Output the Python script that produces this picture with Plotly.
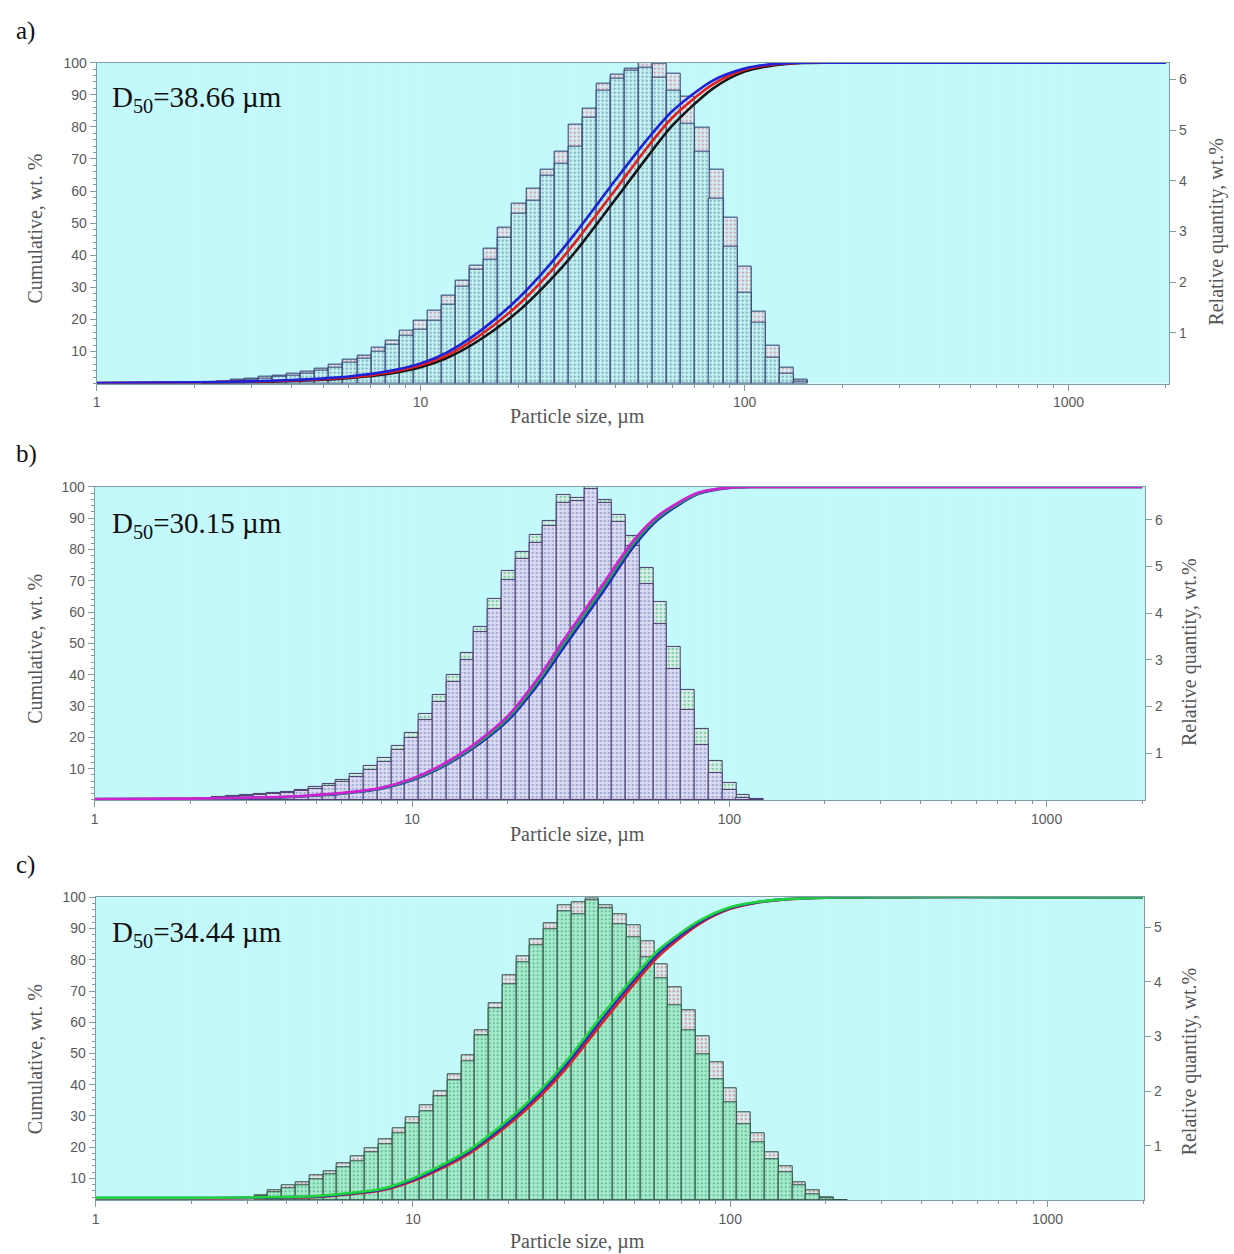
import plotly.graph_objects as go

# ---------------- data ----------------
# particle size classes (class centres, µm)
SIZE_CLASSES = [2.227, 2.462, 2.721, 3.008, 3.325, 3.674, 4.061, 4.488, 4.961, 5.483,
                6.060, 6.698, 7.403, 8.185, 9.048, 10.0, 11.05, 12.22, 13.50, 14.92,
                16.49, 18.23, 20.15, 22.27, 24.61, 27.20, 30.06, 33.23, 36.72, 40.58,
                44.86, 49.58, 54.80, 60.57, 66.94, 73.99, 81.77, 90.38, 100.0, 110.5,
                122.2, 135.0, 149.2, 164.9, 182.3, 201.5, 222.7]

# relative quantity, wt.% (outer / inner measurement); None = empty class
A_REL_OUTER = [0.02, 0.04, 0.07, 0.09, 0.13, 0.16, 0.19, 0.24, 0.30, 0.37,
               0.47, 0.56, 0.71, 0.84, 1.04, 1.24, 1.44, 1.74, 2.03, 2.33,
               2.67, 3.08, 3.54, 3.85, 4.21, 4.57, 5.10, 5.43, 5.92, 6.10,
               6.22, 6.33, 6.31, 6.12, 5.65, 5.04, 4.21, 3.27, 2.31, 1.42,
               0.75, 0.31, 0.07, None, None, None, None]
A_REL_INNER = [0.01, 0.03, 0.05, 0.07, 0.10, 0.13, 0.16, 0.20, 0.26, 0.32,
               0.41, 0.50, 0.63, 0.76, 0.94, 1.07, 1.24, 1.56, 1.92, 2.25,
               2.44, 2.87, 3.36, 3.61, 4.11, 4.34, 4.67, 5.25, 5.78, 6.01,
               6.17, 6.24, 6.04, 5.78, 5.12, 4.57, 3.65, 2.71, 1.79, 1.20,
               0.52, 0.19, 0.03, None, None, None, None]
B_REL_OUTER = [0.03, 0.06, 0.08, 0.10, 0.13, 0.16, 0.18, 0.22, 0.27, 0.34,
               0.43, 0.55, 0.72, 0.89, 1.16, 1.44, 1.84, 2.24, 2.68, 3.15,
               3.70, 4.30, 4.91, 5.31, 5.68, 5.98, 6.52, 6.47, 6.71, 6.43,
               6.11, 5.66, 4.97, 4.23, 3.27, 2.35, 1.53, 0.84, 0.36, 0.11,
               0.03, None, None, None, None, None, None]
B_REL_INNER = [0.02, 0.04, 0.06, 0.08, 0.10, 0.13, 0.15, 0.19, 0.23, 0.30,
               0.38, 0.49, 0.65, 0.81, 1.06, 1.32, 1.72, 2.10, 2.53, 2.99,
               3.59, 4.09, 4.72, 5.15, 5.50, 5.86, 6.36, 6.39, 6.66, 6.36,
               5.96, 5.43, 4.62, 3.77, 2.81, 1.92, 1.18, 0.57, 0.22, 0.05,
               0.01, None, None, None, None, None, None]
C_REL_OUTER = [None, None, None, None, 0.10, 0.18, 0.27, 0.33, 0.45, 0.53,
               0.68, 0.80, 0.96, 1.12, 1.32, 1.52, 1.74, 1.99, 2.30, 2.65,
               3.11, 3.61, 4.12, 4.47, 4.78, 5.08, 5.41, 5.45, 5.53, 5.41,
               5.24, 5.04, 4.74, 4.33, 3.91, 3.48, 3.00, 2.52, 2.05, 1.62,
               1.23, 0.88, 0.62, 0.33, 0.18, 0.05, 0.01]
C_REL_INNER = [None, None, None, None, 0.07, 0.14, 0.22, 0.28, 0.39, 0.47,
               0.61, 0.72, 0.88, 1.03, 1.22, 1.42, 1.64, 1.90, 2.20, 2.54,
               3.02, 3.52, 3.95, 4.36, 4.67, 4.97, 5.29, 5.24, 5.49, 5.35,
               5.06, 4.82, 4.45, 4.06, 3.58, 3.12, 2.67, 2.21, 1.79, 1.39,
               1.06, 0.76, 0.51, 0.27, 0.12, 0.04, 0.01]

# cumulative, wt.%
CUM_SIZES = [1, 2, 3, 4, 5, 6, 8, 10, 12, 15, 20, 25, 30, 40, 50, 60, 80, 100, 120, 150, 200, 2000]
A_CUM_BLACK = [0.1, 0.3, 0.5, 0.8, 1.2, 1.7, 3.1, 5.1, 7.9, 13.2, 22.5, 32.0, 41.0, 57.5, 70.5, 80.5, 92.0, 97.2, 99.0, 99.9, 100, 100]
A_CUM_RED = [0.15, 0.35, 0.6, 0.95, 1.4, 1.9, 3.5, 5.7, 8.7, 14.5, 24.5, 34.5, 44.0, 60.5, 73.5, 83.0, 93.3, 97.8, 99.3, 100, 100, 100]
A_CUM_BLUE = [0.2, 0.4, 0.7, 1.1, 1.6, 2.2, 3.9, 6.3, 9.6, 15.8, 26.5, 37.0, 46.8, 63.5, 76.0, 85.0, 94.5, 98.2, 99.5, 100, 100, 100]
B_CUM_BLUE = [0.2, 0.3, 0.6, 0.9, 1.4, 2.0, 3.6, 6.3, 9.7, 15.4, 25.3, 37.0, 48.5, 66.5, 81.0, 89.8, 97.8, 99.7, 100, 100, 100, 100]
B_CUM_GREEN = [0.25, 0.35, 0.65, 0.95, 1.5, 2.1, 3.75, 6.5, 10.0, 15.8, 26.0, 38.0, 49.8, 67.8, 82.0, 90.4, 98.0, 99.8, 100, 100, 100, 100]
B_CUM_MAGENTA = [0.3, 0.4, 0.7, 1.0, 1.6, 2.2, 3.9, 6.8, 10.4, 16.3, 26.7, 39.0, 51.0, 69.0, 83.0, 91.0, 98.2, 99.8, 100, 100, 100, 100]
C_CUM_RED = [3.6, 3.6, 3.7, 3.9, 4.1, 4.7, 6.2, 9.2, 12.7, 17.9, 27.2, 36.0, 44.6, 60.5, 72.5, 81.5, 91.5, 96.3, 98.2, 99.3, 99.9, 100]
C_CUM_BLUE = [3.7, 3.7, 3.8, 4.0, 4.25, 4.9, 6.45, 9.6, 13.2, 18.5, 28.0, 37.0, 45.7, 61.8, 73.7, 82.5, 92.0, 96.6, 98.3, 99.4, 99.9, 100]
C_CUM_GREEN = [3.8, 3.8, 3.9, 4.1, 4.4, 5.1, 6.7, 10.0, 13.7, 19.1, 28.9, 37.9, 46.8, 63.0, 74.8, 83.5, 92.5, 96.8, 98.4, 99.4, 99.9, 100]

D50_TEXT = ["D<sub>50</sub>=38.66 µm", "D<sub>50</sub>=30.15 µm", "D<sub>50</sub>=34.44 µm"]
PANEL_LABELS = ["a)", "b)", "c)"]
X_TICKS = [1, 10, 100, 1000]
X_TICKTEXT = ["1", "10", "100", "1000"]
CUM_TICKS = [10, 20, 30, 40, 50, 60, 70, 80, 90, 100]

# ---------------- layout geometry (page pixels) ----------------
W, H = 1234, 1254
def fx(p): return p / W
def fy(p): return 1 - p / H

panels = [
    dict(rel=(A_REL_OUTER, A_REL_INNER), cum=[(A_CUM_BLACK, "#151515"), (A_CUM_RED, "#e41d1d"), (A_CUM_BLUE, "#1b22d8")],
         box=(93, 1169, 55, 378), xr=3.311, rr=6.33, cr=(0, 100), rticks=[1, 2, 3, 4, 5, 6],
         inner=dict(bg="#c8f2f2", fg="#2f7896"), outer=dict(bg="#d6f0f2", fg="#c0587a"), edge="#2c3a6c",
         label_y=23, d50_y=92, xt_y=411, lt=(31, 222), rt=(1217, 225)),
    dict(rel=(B_REL_OUTER, B_REL_INNER), cum=[(B_CUM_BLUE, "#2026c0"), (B_CUM_GREEN, "#1fa055"), (B_CUM_MAGENTA, "#d11fd4")],
         box=(91, 1145, 482, 797), xr=3.311, rr=6.7, cr=(0, 100), rticks=[1, 2, 3, 4, 5, 6],
         inner=dict(bg="#dedcf2", fg="#5a78b8"), outer=dict(bg="#d8f0ea", fg="#2aa060"), edge="#4a3c6e",
         label_y=449, d50_y=520, xt_y=832, lt=(31, 645), rt=(1190, 648)),
    dict(rel=(C_REL_OUTER, C_REL_INNER), cum=[(C_CUM_RED, "#e21f1f"), (C_CUM_BLUE, "#2233c0"), (C_CUM_GREEN, "#1fd43c")],
         box=(92, 1144, 895, 1200), xr=3.305, rr=5.55, cr=(3, 100), rticks=[1, 2, 3, 4, 5],
         inner=dict(bg="#aaecd0", fg="#2a9a62"), outer=dict(bg="#d6eef0", fg="#c0485a"), edge="#2e4e42",
         label_y=862, d50_y=932, xt_y=1241, lt=(31, 1058), rt=(1189, 1060)),
]

half = 10 ** (1 / 46)
lower = [s / half for s in SIZE_CLASSES]
widths = [s * half - s / half for s in SIZE_CLASSES]

minor_x = [m * 10 ** e for e in range(0, 4) for m in range(2, 10)]

tickfont = dict(family="Liberation Sans, Arial, sans-serif", size=14, color="#5a5a5a")
serif = "Liberation Serif, Times New Roman, serif"
axline = "#7f9ca4"
grid = "#ccfafb"

fig = go.Figure()
annotations = []
layout = {}

for i, p in enumerate(panels, start=1):
    x0, x1, y0, y1 = p["box"]
    xa, ya, yc = f"x{i}", f"y{i}", f"y{i + 3}"
    outer, inner = p["rel"]
    for vals, st in ((outer, p["outer"]), (inner, p["inner"])):
        fig.add_trace(go.Bar(
            x=lower, y=vals, width=widths, offset=0, xaxis=xa, yaxis=ya, opacity=1,
            marker=dict(color=st["bg"], line=dict(color=p["edge"], width=1),
                        pattern=dict(shape=".", fgcolor=st["fg"], bgcolor=st["bg"], size=4, solidity=0.3)),
            showlegend=False, hoverinfo="skip"))
    for vals, col in p["cum"]:
        fig.add_trace(go.Scatter(
            x=CUM_SIZES, y=vals, mode="lines", xaxis=xa, yaxis=yc,
            line=dict(color=col, width=2.6, shape="spline", smoothing=0.8),
            showlegend=False, hoverinfo="skip"))

    sfx = "" if i == 1 else str(i)
    layout[f"xaxis{sfx}"] = dict(
        type="log", range=[0, p["xr"]], domain=[fx(x0), fx(x1)], anchor=ya,
        tickvals=X_TICKS, ticktext=X_TICKTEXT, ticks="outside", ticklen=6, tickcolor=axline,
        showline=True, linecolor=axline, linewidth=1, mirror=True,
        showgrid=True, gridcolor=grid, gridwidth=1, zeroline=False,
        minor=dict(tickvals=minor_x, ticks="outside", ticklen=3, tickcolor=axline,
                   showgrid=True, gridcolor=grid),
        tickfont=tickfont)
    layout[f"yaxis{i}"] = dict(
        domain=[fy(y1), fy(y0)], anchor=xa, side="right", range=[0, p["rr"]],
        tickvals=p["rticks"], ticks="outside", ticklen=6, tickcolor=axline,
        showline=True, linecolor=axline, linewidth=1, showgrid=False, zeroline=False,
        tickfont=tickfont)
    layout[f"yaxis{i + 3}"] = dict(
        overlaying=ya, anchor=xa, side="left", range=list(p["cr"]),
        tickvals=CUM_TICKS, ticks="outside", ticklen=6, tickcolor=axline,
        minor=dict(dtick=2, ticks="outside", ticklen=3, tickcolor=axline),
        showline=True, linecolor=axline, linewidth=1, showgrid=False, zeroline=False,
        tickfont=tickfont)

    annotations += [
        dict(text=PANEL_LABELS[i - 1], x=fx(10), y=fy(p["label_y"]), xref="paper", yref="paper",
             xanchor="left", yanchor="middle", showarrow=False, font=dict(family=serif, size=25, color="#111")),
        dict(text=D50_TEXT[i - 1], x=fx(106), y=fy(p["d50_y"]), xref="paper", yref="paper",
             xanchor="left", yanchor="middle", showarrow=False, font=dict(family=serif, size=29, color="#111")),
        dict(text="Particle size, µm", x=fx(575), y=fy(p["xt_y"]), xref="paper", yref="paper",
             xanchor="center", yanchor="middle", showarrow=False, font=dict(family=serif, size=20, color="#555")),
        dict(text="Cumulative, wt. %", x=fx(p["lt"][0]), y=fy(p["lt"][1]), xref="paper", yref="paper",
             xanchor="center", yanchor="middle", textangle=-90, showarrow=False,
             font=dict(family=serif, size=20, color="#555")),
        dict(text="Relative quantity, wt.%", x=fx(p["rt"][0]), y=fy(p["rt"][1]), xref="paper", yref="paper",
             xanchor="center", yanchor="middle", textangle=-90, showarrow=False,
             font=dict(family=serif, size=20, color="#555")),
    ]

fig.update_layout(
    width=W, height=H, margin=dict(l=0, r=0, t=0, b=0),
    paper_bgcolor="white", plot_bgcolor="#c3f9fa",
    barmode="overlay", bargap=0, showlegend=False,
    annotations=annotations, **layout)

# remove the browser's default page margin so the figure fills the window exactly
fig.write_html("out.html",
               config={"displayModeBar": False},
               post_script="document.body.style.margin='0';document.body.style.overflow='hidden';")
